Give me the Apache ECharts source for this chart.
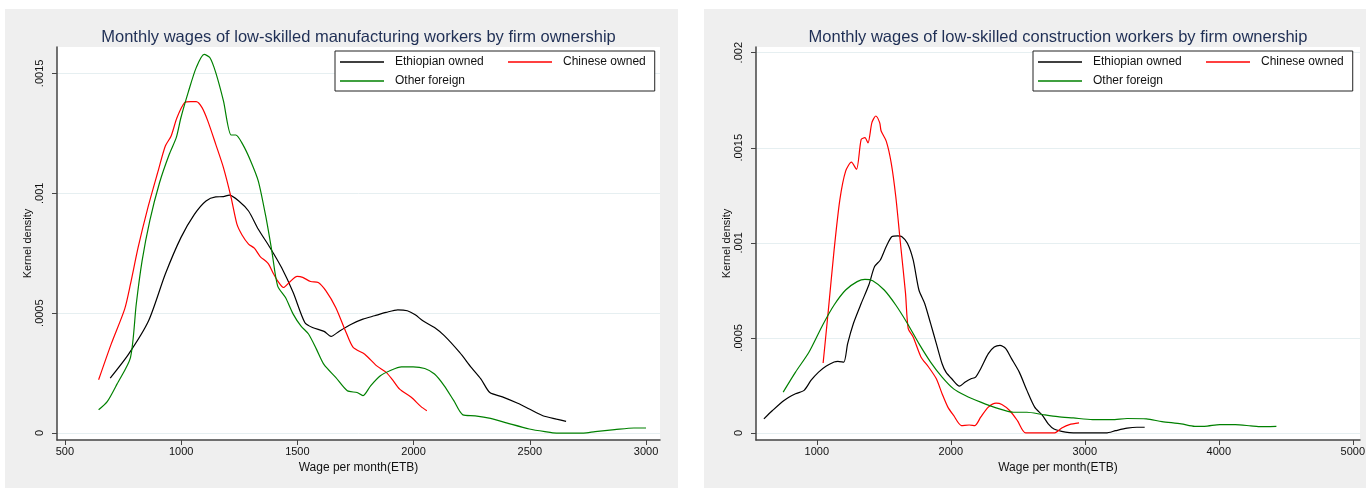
<!DOCTYPE html>
<html>
<head>
<meta charset="utf-8">
<script src="https://cdn.jsdelivr.net/npm/echarts@6/dist/echarts.min.js"></script>
<style>
  html, body { margin: 0; padding: 0; background: #ffffff; }
  #chart { width: 1370px; height: 488px; }
</style>
</head>
<body>
<div id="chart"></div>
<script>
// ---------------- Data ----------------
const seriesNames = ['Ethiopian owned', 'Chinese owned', 'Other foreign'];
const seriesColors = ['#000000', '#ff0000', '#008000'];

const titleMfg = 'Monthly wages of low-skilled manufacturing workers by firm ownership';
const titleCon = 'Monthly wages of low-skilled construction workers by firm ownership';
const xAxisTitle = 'Wage per month(ETB)';
const yAxisTitle = 'Kernel density';

const mfgXTicks = [500, 1000, 1500, 2000, 2500, 3000];
const mfgYTicks = [0, 0.0005, 0.001, 0.0015];
const conXTicks = [1000, 2000, 3000, 4000, 5000];
const conYTicks = [0, 0.0005, 0.001, 0.0015, 0.002];

// Manufacturing panel
const mfgEthWage = [695, 774, 860, 932, 999, 1057, 1107, 1149, 1182, 1207, 1248, 1290, 1332, 1382, 1432, 1482, 1532, 1565, 1615, 1645, 1682, 1732, 1782, 1832, 1882, 1932, 1973, 2007, 2040, 2090, 2132, 2198, 2248, 2290, 2328, 2382, 2448, 2498, 2556, 2615, 2656];
const mfgEthDens = [0.000229, 0.000329, 0.000468, 0.000663, 0.000815, 0.000912, 0.000968, 0.000985, 0.000986, 0.000992, 0.000968, 0.000926, 0.00085, 0.000774, 0.00069, 0.000586, 0.000461, 0.00044, 0.000424, 0.000403, 0.000426, 0.000454, 0.000475, 0.000489, 0.000503, 0.000514, 0.00051, 0.000493, 0.000468, 0.00044, 0.000406, 0.000336, 0.000274, 0.000225, 0.000169, 0.000151, 0.000124, 0.0001, 0.000072, 0.000058, 0.000049];

const mfgChnWage = [645, 699, 757, 782, 815, 857, 899, 932, 957, 982, 1015, 1040, 1065, 1090, 1115, 1149, 1182, 1215, 1240, 1262, 1290, 1315, 1340, 1374, 1398, 1415, 1440, 1465, 1499, 1523, 1557, 1590, 1623, 1665, 1707, 1740, 1790, 1840, 1882, 1907, 1940, 1990, 2032, 2057];
const mfgChnDens = [0.000222, 0.000371, 0.000517, 0.000621, 0.000774, 0.00094, 0.001086, 0.001197, 0.001239, 0.001315, 0.001378, 0.001382, 0.001382, 0.001357, 0.001301, 0.001204, 0.001107, 0.000982, 0.000871, 0.000826, 0.000788, 0.000771, 0.000736, 0.000708, 0.000663, 0.000635, 0.000607, 0.000628, 0.000653, 0.000649, 0.000632, 0.000628, 0.000593, 0.000524, 0.000426, 0.000357, 0.000329, 0.000281, 0.000253, 0.000225, 0.000183, 0.000149, 0.00011, 0.000093];

const mfgOthWage = [645, 682, 724, 782, 807, 832, 865, 907, 949, 979, 999, 1032, 1065, 1099, 1124, 1149, 1182, 1215, 1235, 1265, 1299, 1332, 1365, 1390, 1415, 1449, 1482, 1515, 1548, 1582, 1615, 1665, 1715, 1757, 1782, 1815, 1857, 1898, 1948, 1998, 2048, 2090, 2132, 2173, 2212, 2265, 2331, 2415, 2498, 2565, 2615, 2731, 2781, 2865, 2948, 3000];
const mfgOthDens = [0.000097, 0.000131, 0.000204, 0.000315, 0.000538, 0.000718, 0.000885, 0.001044, 0.001163, 0.001232, 0.001315, 0.001426, 0.001524, 0.001579, 0.001565, 0.001503, 0.001385, 0.001243, 0.001243, 0.001204, 0.001135, 0.001051, 0.000899, 0.00076, 0.000614, 0.000565, 0.000496, 0.000447, 0.000413, 0.00035, 0.000285, 0.000232, 0.000176, 0.000169, 0.000156, 0.000197, 0.000239, 0.00026, 0.000276, 0.000276, 0.000269, 0.000246, 0.000197, 0.000135, 0.000076, 0.000072, 0.000061, 0.000038, 0.000017, 0.000006, 0, 0, 0.000006, 0.000014, 0.000021, 0.000021];

// Construction panel
const conEthWage = [605, 669, 755, 841, 905, 956, 1013, 1071, 1129, 1157, 1201, 1230, 1273, 1331, 1388, 1431, 1474, 1518, 1561, 1604, 1633, 1676, 1719, 1762, 1805, 1849, 1892, 1935, 1964, 2007, 2065, 2108, 2151, 2185, 2223, 2280, 2324, 2367, 2410, 2453, 2511, 2568, 2626, 2684, 2727, 2770, 2856, 2914, 3159, 3230, 3316, 3389, 3447];
const conEthDens = [0.000074, 0.000118, 0.000171, 0.000206, 0.000224, 0.000276, 0.00032, 0.000352, 0.000373, 0.000377, 0.000373, 0.00047, 0.000576, 0.000681, 0.000778, 0.000875, 0.00091, 0.000981, 0.001033, 0.001037, 0.001033, 0.000998, 0.00091, 0.000752, 0.000681, 0.000576, 0.00047, 0.000364, 0.00032, 0.000285, 0.000246, 0.000268, 0.000285, 0.000294, 0.000338, 0.000417, 0.000452, 0.000461, 0.000444, 0.000391, 0.00032, 0.000224, 0.000136, 0.000092, 0.000048, 0.000021, 0.000004, 0, 0, 0.000012, 0.000025, 0.00003, 0.00003];

const conChnWage = [1047, 1086, 1129, 1172, 1215, 1258, 1296, 1331, 1359, 1382, 1411, 1440, 1469, 1480, 1518, 1555, 1589, 1624, 1662, 1682, 1719, 1777, 1834, 1892, 1935, 1978, 2021, 2079, 2137, 2180, 2223, 2280, 2338, 2381, 2439, 2497, 2559, 2770, 2828, 2885, 2957];
const conChnDens = [0.000368, 0.000646, 0.000963, 0.001227, 0.001377, 0.001424, 0.001386, 0.001544, 0.001553, 0.001526, 0.001632, 0.001667, 0.001632, 0.001588, 0.001535, 0.001421, 0.001245, 0.000998, 0.000734, 0.000549, 0.000505, 0.0004, 0.000347, 0.000285, 0.000206, 0.000136, 0.000092, 0.000039, 0.000042, 0.000039, 0.000083, 0.000136, 0.000157, 0.00015, 0.000118, 0.000065, 0, 0, 0.000026, 0.000044, 0.000053];

const conOthWage = [749, 841, 942, 1043, 1129, 1215, 1301, 1359, 1417, 1503, 1589, 1676, 1762, 1849, 1935, 2021, 2108, 2223, 2338, 2467, 2568, 2684, 2798, 2914, 3058, 3202, 3316, 3460, 3576, 3720, 3821, 3892, 4008, 4123, 4238, 4296, 4430];
const conOthDens = [0.000215, 0.00032, 0.000426, 0.000567, 0.000673, 0.000752, 0.000796, 0.000808, 0.000801, 0.000752, 0.000673, 0.000576, 0.00047, 0.000373, 0.000294, 0.000232, 0.000197, 0.000162, 0.000132, 0.000109, 0.000109, 0.000097, 0.000086, 0.000079, 0.00007, 0.00007, 0.000076, 0.000074, 0.00006, 0.000048, 0.000035, 0.000035, 0.000044, 0.000044, 0.000037, 0.000033, 0.000035];

// ---------------- Build ----------------
const FONT = '"Liberation Sans", Arial, sans-serif';
const zip = (xs, ys) => xs.map((x, i) => [x, ys[i]]);
const fmtY = v => (v === 0 ? '0' : String(v).replace(/^0/, ''));
const fmtX = v => String(v);

const panels = [
  { title: titleMfg, xTicks: mfgXTicks, yTicks: mfgYTicks, xMin: 466, xMax: 3060, yMin: -0.000029, yMax: 0.00161,
    grid: { left: 57, top: 47, width: 603, height: 393 }, bg: [5, 9, 673, 479],
    legendLeft: 335,
    data: [zip(mfgEthWage, mfgEthDens), zip(mfgChnWage, mfgChnDens), zip(mfgOthWage, mfgOthDens)] },
  { title: titleCon, xTicks: conXTicks, yTicks: conYTicks, xMin: 546, xMax: 5054, yMin: -0.000037, yMax: 0.00203,
    grid: { left: 756, top: 47, width: 604, height: 393 }, bg: [704, 9, 662, 479],
    legendLeft: 1033,
    data: [zip(conEthWage, conEthDens), zip(conChnWage, conChnDens), zip(conOthWage, conOthDens)] }
];

const option = {
  animation: false,
  backgroundColor: '#ffffff',
  textStyle: { fontFamily: FONT },
  graphic: panels.map(p => ({
    type: 'rect', z: -10, silent: true,
    shape: { x: p.bg[0], y: p.bg[1], width: p.bg[2], height: p.bg[3] },
    style: { fill: '#efefef' }
  })),
  title: panels.map(p => ({
    text: p.title,
    left: p.grid.left + p.grid.width / 2,
    textAlign: 'center',
    top: 29,
    padding: 0,
    textStyle: { fontFamily: FONT, fontSize: 16.5, fontWeight: 'normal', color: '#1f2f55' }
  })),
  legend: [],
  grid: panels.map(p => Object.assign({ show: true, backgroundColor: '#ffffff', borderWidth: 0, containLabel: false }, p.grid)),
  xAxis: panels.map((p, i) => ({
    type: 'value', gridIndex: i, min: p.xMin, max: p.xMax,
    name: xAxisTitle, nameLocation: 'middle', nameGap: 19,
    nameTextStyle: { fontFamily: FONT, fontSize: 12, color: '#111' },
    axisLine: { show: true, onZero: false, lineStyle: { color: '#444', width: 1.5 } },
    axisTick: { show: true, length: 5, customValues: p.xTicks, lineStyle: { color: '#444', width: 1 } },
    axisLabel: { customValues: p.xTicks, formatter: fmtX, margin: 6, fontFamily: FONT, fontSize: 11, color: '#111' },
    splitLine: { show: false }
  })),
  yAxis: panels.map((p, i) => ({
    type: 'value', gridIndex: i, min: p.yMin, max: p.yMax,
    name: yAxisTitle, nameLocation: 'middle', nameGap: 14, nameRotate: 90,
    nameTextStyle: { fontFamily: FONT, fontSize: 11, color: '#111' },
    axisLine: { show: true, onZero: false, lineStyle: { color: '#444', width: 1.5 } },
    axisTick: { show: true, length: 5, customValues: p.yTicks, lineStyle: { color: '#444', width: 1 } },
    axisLabel: { customValues: p.yTicks, rotate: 90, margin: 12, formatter: fmtY, fontFamily: FONT, fontSize: 11, color: '#111' },
    splitLine: { show: true, lineStyle: { color: '#e6eff1', width: 1 } }
  })),
  series: []
};

panels.forEach((p, pi) => {
  // Row 1: Ethiopian owned + Chinese owned; Row 2: Other foreign
  option.legend.push({
    left: p.legendLeft, top: 51, orient: 'horizontal',
    padding: [4, 9, 3, 5], itemGap: 5, itemWidth: 44, itemHeight: 1.5,
    icon: 'rect', selectedMode: false,
    backgroundColor: '#ffffff', borderColor: '#222', borderWidth: 1,
    textStyle: { fontFamily: FONT, fontSize: 12, color: '#111', lineHeight: 14, padding: [0, 0, 0, 6], width: 108 },
    width: 340,
    data: [
      { name: seriesNames[0] + '\u200b'.repeat(pi), textStyle: { width: 108 } },
      { name: seriesNames[1] + '\u200b'.repeat(pi), textStyle: { width: 81 } },
      { name: seriesNames[2] + '\u200b'.repeat(pi), textStyle: { width: 81 } }
    ]
  });
  p.data.forEach((d, si) => {
    option.series.push({
      name: seriesNames[si] + '\u200b'.repeat(pi),
      type: 'line', xAxisIndex: pi, yAxisIndex: pi,
      data: d, showSymbol: false, symbol: 'none',
      smooth: 0.25,
      lineStyle: { color: seriesColors[si], width: 1.2 },
      itemStyle: { color: seriesColors[si] },
      emphasis: { disabled: true }
    });
  });
});

const chart = echarts.init(document.getElementById('chart'), null, { renderer: 'canvas' });
chart.setOption(option);
</script>
</body>
</html>
